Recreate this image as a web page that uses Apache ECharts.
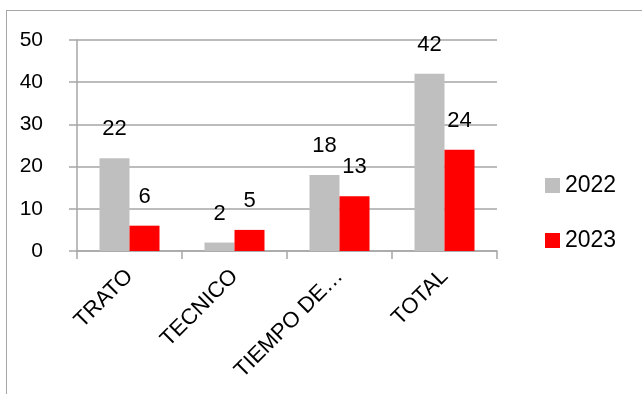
<!DOCTYPE html>
<html lang="es">
<head>
    <meta charset="UTF-8">
    <title>2022 vs 2023</title>
    <script src="https://cdn.jsdelivr.net/npm/echarts@6.0.0/dist/echarts.min.js"></script>
    <style>
        html, body { margin: 0; padding: 0; background: #fff; overflow: hidden; }
        #frame {
            position: absolute; left: 6px; top: 10px;
            width: 700px; height: 450px;
            border: 1.5px solid #a6a6a6;
        }
        #chart { position: absolute; left: 0; top: 0; width: 642px; height: 394px; }
    </style>
</head>
<body>
    <div id="frame"></div>
    <div id="chart"></div>
    <script>
        // datos
        const categories = ['TRATO', 'TECNICO', 'TIEMPO DE…', 'TOTAL'];
        const seriesNames = ['2022', '2023'];
        const values2022 = [22, 2, 18, 42];
        const values2023 = [6, 5, 13, 24];

        const font = 'Liberation Sans, Arial, sans-serif';
        const axisGray = '#a6a6a6';

        const chart = echarts.init(document.getElementById('chart'));
        chart.setOption({
            animation: false,
            textStyle: { fontFamily: font },
            grid: { left: 77, top: 40, right: 145, bottom: 143 },
            legend: {
                orient: 'vertical',
                left: 540,
                top: 169,
                itemWidth: 15,
                itemHeight: 15,
                itemGap: 32,
                icon: 'rect',
                textStyle: { fontSize: 23, color: '#000', fontFamily: font },
                data: seriesNames
            },
            xAxis: {
                type: 'category',
                data: categories,
                axisLine: { lineStyle: { color: axisGray, width: 1.5 } },
                axisTick: { show: true, length: 8, alignWithLabel: false, lineStyle: { color: axisGray, width: 1.5 } },
                axisLabel: { rotate: 45, fontSize: 22, color: '#000', margin: 22, interval: 0 }
            },
            yAxis: {
                type: 'value',
                min: 0,
                max: 50,
                interval: 10,
                axisLine: { show: true, lineStyle: { color: axisGray, width: 1.5 } },
                axisTick: { show: true, length: 8, lineStyle: { color: axisGray, width: 1.5 } },
                splitLine: { lineStyle: { color: axisGray, width: 1.5 } },
                axisLabel: { fontSize: 21, color: '#000', margin: 34 }
            },
            series: [
                {
                    name: seriesNames[0],
                    type: 'bar',
                    data: values2022,
                    barWidth: 30,
                    barGap: '0%',
                    itemStyle: { color: '#bfbfbf' },
                    label: { show: true, position: 'top', distance: 18, fontSize: 22, color: '#000' }
                },
                {
                    name: seriesNames[1],
                    type: 'bar',
                    data: values2023,
                    barWidth: 30,
                    itemStyle: { color: '#ff0000' },
                    label: { show: true, position: 'top', distance: 18, fontSize: 22, color: '#000' }
                }
            ]
        });
    </script>
</body>
</html>
